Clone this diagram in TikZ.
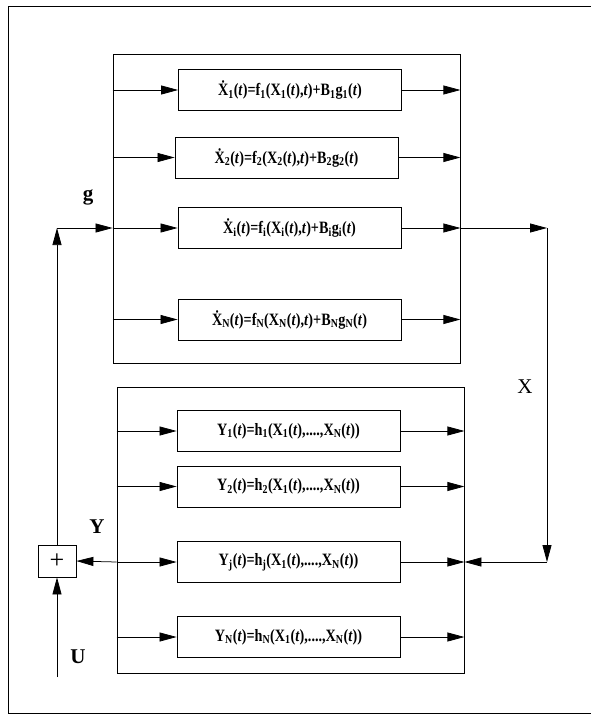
\documentclass[tikz,border=0pt]{standalone}
\usepackage{fontspec}
\setmainfont{Liberation Serif}
\usetikzlibrary{arrows.meta}
\newcommand{\sbs}[1]{\textsubscript{#1}}
\newcommand{\tv}{\textit{t}}
\newcommand{\eqtxt}[1]{\scalebox{1}[1.22]{#1}}
\begin{document}
\begin{tikzpicture}[x=1pt,y=-1pt,
  arr/.style={draw, line width=0.75pt, -{Triangle[length=17pt,width=9pt]}},
  eqbox/.style={draw, line width=0.8pt, minimum width=223pt, minimum height=41pt, inner sep=0pt, font=\fontsize{14.2}{16}\selectfont\bfseries},
  bigbox/.style={draw, line width=0.8pt, inner sep=0pt},
  lbl/.style={font=\fontsize{21}{23}\selectfont\bfseries}]
\useasboundingbox (0,0) rectangle (590,715);
% outer frame
\draw[line width=0.9pt] (600,6) -- (8,6) -- (8,713) -- (600,713);
% big boxes
\node[bigbox, minimum width=347pt, minimum height=309pt] (upper) at (286.5,208.5) {};
\node[bigbox, minimum width=347pt, minimum height=286pt] (lower) at (290.5,530) {};
% equation boxes (upper)
\node[eqbox] (X1) at (290,90) {\eqtxt{\.X\sbs{1}(\tv)=f\sbs{1}(X\sbs{1}(\tv),\tv)+B\sbs{1}g\sbs{1}(\tv)}};
\node[eqbox] (X2) at (286.5,157.5) {\eqtxt{\.X\sbs{2}(\tv)=f\sbs{2}(X\sbs{2}(\tv),\tv)+B\sbs{2}g\sbs{2}(\tv)}};
\node[eqbox] (Xi) at (289.5,228) {\eqtxt{\.X\sbs{i}(\tv)=f\sbs{i}(X\sbs{i}(\tv),\tv)+B\sbs{i}g\sbs{i}(\tv)}};
\node[eqbox] (XN) at (289.5,319.5) {\eqtxt{\.X\sbs{N}(\tv)=f\sbs{N}(X\sbs{N}(\tv),\tv)+B\sbs{N}g\sbs{N}(\tv)}};
% equation boxes (lower)
\node[eqbox] (Y1) at (288.5,431) {\eqtxt{Y\sbs{1}(\tv)=h\sbs{1}(X\sbs{1}(\tv),....,X\sbs{N}(\tv))}};
\node[eqbox] (Y2) at (288.5,486.5) {\eqtxt{Y\sbs{2}(\tv)=h\sbs{2}(X\sbs{1}(\tv),....,X\sbs{N}(\tv))}};
\node[eqbox] (Yj) at (288.5,562) {\eqtxt{Y\sbs{j}(\tv)=h\sbs{j}(X\sbs{1}(\tv),....,X\sbs{N}(\tv))}};
\node[eqbox] (YN) at (288.5,637) {\eqtxt{Y\sbs{N}(\tv)=h\sbs{N}(X\sbs{1}(\tv),....,X\sbs{N}(\tv))}};
% plus
\node[draw, line width=0.8pt, minimum width=38pt, minimum height=32pt, inner sep=0pt, font=\fontsize{26}{28}\selectfont] (plus) at (57,561) {+};
% row arrows
\foreach \b in {X1,X2,XN}{
  \draw[arr] (upper.west |- \b) -- (\b.west);
  \draw[arr] (\b.east) -- (upper.east |- \b);
}
\foreach \b in {Y1,Y2,YN,Yj}{
  \draw[arr] (lower.west |- \b) -- (\b.west);
  \draw[arr] (\b.east) -- (lower.east |- \b);
}
% feedback g
\coordinate (gc) at (plus.north |- Xi);
\draw[arr] (plus.north) -- (gc);
\draw[arr] (gc) -- (upper.west |- Xi);
\draw[arr] (upper.west |- Xi) -- (Xi.west);
\draw[arr] (Xi.east) -- (upper.east |- Xi);
% X path
\coordinate (xc1) at (547,228);
\coordinate (xc2) at (547,562);
\draw[arr] (upper.east |- Xi) -- (xc1);
\draw[arr] (xc1) -- (xc2);
\draw[arr] (xc2) -- (lower.east |- Yj);
% Y to plus
\draw[arr] (lower.west |- Yj) -- (plus.east);
% U
\coordinate (us) at (57,677);
\draw[arr] (us) -- (plus.south);
% labels
\node[lbl] (lg) at (88,197) {g};
\node[font=\fontsize{21}{23}\selectfont] (lx) at (525,387) {X};
\node[lbl] (ly) at (97,527) {Y};
\node[lbl] (lu) at (78,657) {U};
\end{tikzpicture}
\end{document}
